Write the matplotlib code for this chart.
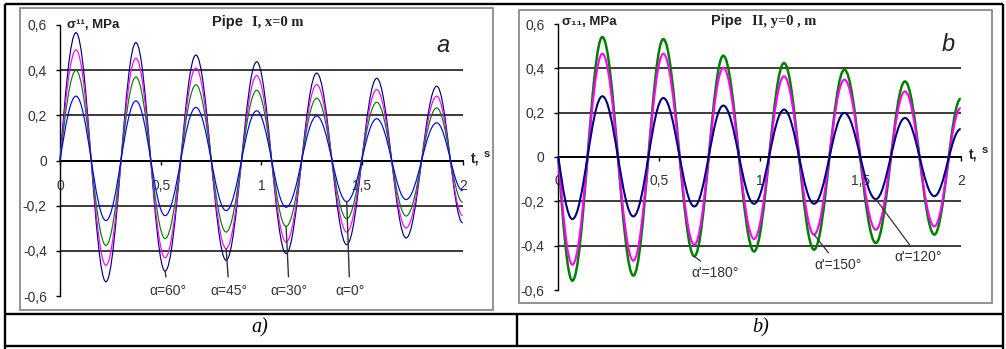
import numpy as np
import matplotlib.pyplot as plt
from matplotlib.path import Path
from matplotlib.patches import PathPatch, Rectangle

# ---- data (extremum times and values, t in s, sigma in MPa) ----
t_a = [0, 0.0795, 0.228, 0.377, 0.522, 0.675, 0.825, 0.977, 1.123, 1.275, 1.424, 1.573, 1.719, 1.871, 2.0]
alpha60 = [0, 0.566, -0.537, 0.522, -0.490, 0.467, -0.442, 0.437, -0.412, 0.387, -0.373, 0.364, -0.343, 0.329, -0.276]
alpha45 = [0, 0.490, -0.464, 0.453, -0.431, 0.409, -0.390, 0.376, -0.361, 0.336, -0.317, 0.314, -0.299, 0.285, -0.244]
alpha30 = [0, 0.399, -0.376, 0.370, -0.346, 0.335, -0.317, 0.311, -0.292, 0.276, -0.258, 0.258, -0.246, 0.233, -0.185]
alpha0 = [0, 0.285, -0.266, 0.264, -0.244, 0.235, -0.222, 0.220, -0.207, 0.197, -0.182, 0.185, -0.173, 0.167, -0.134]

t_b = [0, 0.070, 0.219, 0.373, 0.522, 0.676, 0.820, 0.973, 1.122, 1.271, 1.422, 1.578, 1.723, 1.869, 2.0]
alpha180 = [0, -0.558, 0.541, -0.535, 0.532, -0.448, 0.457, -0.426, 0.424, -0.418, 0.394, -0.388, 0.341, -0.350, 0.263]
alpha150 = [0, -0.486, 0.466, -0.468, 0.466, -0.396, 0.402, -0.370, 0.364, -0.350, 0.349, -0.328, 0.296, -0.313, 0.221]
alpha120 = [0, -0.280, 0.274, -0.268, 0.266, -0.223, 0.232, -0.211, 0.214, -0.211, 0.199, -0.190, 0.176, -0.177, 0.126]

x_ticks = [0, 0.5, 1, 1.5, 2]
x_labels = ["0", "0,5", "1", "1,5", "2"]
y_ticks = [-0.6, -0.4, -0.2, 0, 0.2, 0.4, 0.6]
y_labels = ["-0,6", "-0,4", "-0,2", "0", "0,2", "0,4", "0,6"]
grid_vals = [-0.4, -0.2, 0.2, 0.4]

W, H = 1006, 349
SANS = ["Liberation Sans", "DejaVu Sans"]
SERIF = ["Liberation Serif", "DejaVu Serif"]
TXT = "#333333"


def wave_path(ts, vs):
    """cubic bezier pieces between the read extrema (half-cosine shape)"""
    h = 1 - 2 / np.pi
    verts = [(ts[0], vs[0])]
    codes = [Path.MOVETO]
    for i in range(1, len(ts)):
        t0, v0, t1, v1 = ts[i - 1], vs[i - 1], ts[i], vs[i]
        dt = t1 - t0
        if i == 1:  # first quarter wave leaving zero
            c1 = (t0 + 0.326 * dt, v0 + 0.512 * (v1 - v0))
            c2 = (t0 + 0.638 * dt, v1)
        else:
            c1 = (t0 + h * dt, v0)
            c2 = (t1 - h * dt, v1)
        verts += [c1, c2, (t1, v1)]
        codes += [Path.CURVE4] * 3
    return Path(verts, codes)


def setup_axes(ax, xpad, ypad):
    ax.set_xlim(0, 2)
    ax.set_ylim(-0.6, 0.6)
    ax.patch.set_visible(False)
    ax.spines["top"].set_visible(False)
    ax.spines["right"].set_visible(False)
    ax.spines["bottom"].set_position(("data", 0))
    ax.spines["bottom"].set_linewidth(1.4)
    ax.spines["left"].set_linewidth(1.0)
    ax.set_xticks(x_ticks, x_labels, family=SANS)
    ax.set_yticks(y_ticks, y_labels, family=SANS)
    ax.tick_params(axis="x", direction="out", length=3, width=1, pad=xpad,
                   labelsize=10, labelcolor=TXT)
    ax.tick_params(axis="y", direction="out", length=3, width=1, pad=ypad,
                   labelsize=10, labelcolor=TXT)
    for g in grid_vals:
        ax.axhline(g, xmin=0, xmax=1, color="#1a1a1a", lw=1.2, zorder=1)
    ax.text(2.04, 0.01, "t,", fontsize=10, fontweight="bold", family=SANS,
            color="#222222", ha="left", va="center")
    ax.text(2.105, 0.03, "s", fontsize=8, fontweight="bold", family=SANS,
            color="#222222", ha="left", va="center")


def title(ax, xr, xl, rest):
    ax.text(xr, 0.615, "Pipe", fontsize=10.5, fontweight="bold", family=SANS,
            color="#222222", ha="right", va="center")
    ax.text(xl, 0.612, rest, fontsize=10.5, fontweight="bold", family=SERIF,
            color="#222222", ha="left", va="center")


fig = plt.figure(figsize=(W / 100, H / 100), dpi=100)

# table + frames drawn in pixel units on a background axes
bg = fig.add_axes([0, 0, 1, 1])
bg.set_xlim(0, W)
bg.set_ylim(H, 0)
bg.axis("off")
for xs, ys in [([5, 1003], [3.5, 3.5]), ([5, 5], [3.5, H]), ([1003, 1003], [3.5, H]),
               ([5, 1003], [313.5, 313.5]), ([5, 1003], [345.5, 345.5]),
               ([517.5, 517.5], [313.5, 345.5])]:
    bg.plot(xs, ys, color="black", lw=1.7, solid_capstyle="butt")
bg.add_patch(Rectangle((20, 8), 473, 302, fill=False, ec="#8a8a8a", lw=1.3))
bg.add_patch(Rectangle((519, 10), 473, 293, fill=False, ec="#8a8a8a", lw=1.3))
bg.text(260, 328, "a)", family=SERIF, style="italic", fontsize=14.5,
        ha="center", va="center")
bg.text(761, 328, "b)", family=SERIF, style="italic", fontsize=14.5,
        ha="center", va="center")

# ---- panel a ----
ax1 = fig.add_axes([60 / W, (H - 296) / H, 402.7 / W, 271 / H])
setup_axes(ax1, xpad=10, ypad=6.5)
for vals, col in [(alpha60, "#000080"), (alpha45, "#ff00ff"), (alpha30, "#008000"), (alpha0, "#0000ff")]:
    ax1.add_patch(PathPatch(wave_path(t_a, vals), fill=False, ec=col, lw=0.85,
                            zorder=3, clip_on=False))
for label, vals, idx in [("α=60°", alpha60, 4), ("α=45°", alpha45, 6),
                         ("α=30°", alpha30, 8), ("α=0°", alpha0, 10)]:
    ax1.annotate(label, xy=(t_a[idx], vals[idx]), xytext=(t_a[idx] + 0.015, -0.577),
                 ha="center", va="center", fontsize=10, family=SANS, color=TXT, zorder=4,
                 arrowprops=dict(arrowstyle="-", color="#333333", lw=1.0, shrinkA=3, shrinkB=0))
ax1.text(0.035, 0.6, "σ¹¹, MPa", fontsize=9.5, fontweight="bold", family=SANS,
         color="#222222", ha="left", va="center")
title(ax1, 0.909, 0.955, "I, x=0 m")
ax1.text(1.903, 0.51, "a", fontsize=17, style="italic", family=SANS,
         color="#222222", ha="center", va="center")

# ---- panel b ----
ax2 = fig.add_axes([558.3 / W, (H - 290) / H, 402.4 / W, 266 / H])
setup_axes(ax2, xpad=9.5, ypad=7)
for vals, col, lw in [(alpha180, "#008000", 1.8), (alpha150, "#ff00ff", 1.5), (alpha120, "#000080", 1.5)]:
    ax2.add_patch(PathPatch(wave_path(t_b, vals), fill=False, ec=col, lw=lw,
                            zorder=3, clip_on=False))
for label, vals, idx, pos in [("α'=180°", alpha180, 5, (0.78, -0.522)),
                              ("α'=150°", alpha150, 9, (1.39, -0.486)),
                              ("α'=120°", alpha120, 11, (1.79, -0.45))]:
    ax2.annotate(label, xy=(t_b[idx], vals[idx]), xytext=pos,
                 ha="center", va="center", fontsize=10, family=SANS, color=TXT, zorder=4,
                 arrowprops=dict(arrowstyle="-", color="#333333", lw=0.9, shrinkA=2, shrinkB=0))
ax2.text(0.02, 0.61, "σ₁₁, MPa", fontsize=9.5, fontweight="bold", family=SANS,
         color="#222222", ha="left", va="center")
title(ax2, 0.913, 0.963, "II, y=0 , m")
ax2.text(1.937, 0.506, "b", fontsize=17, style="italic", family=SANS,
         color="#222222", ha="center", va="center")

fig.savefig("out.png", dpi=100)
